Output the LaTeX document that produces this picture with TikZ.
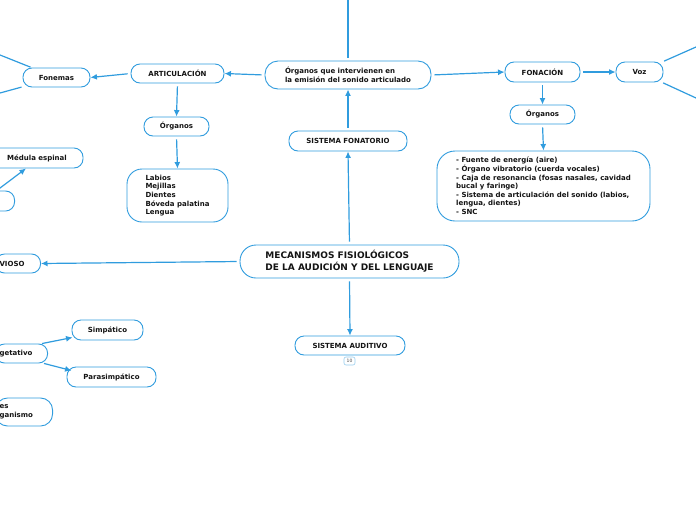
\documentclass[tikz,border=0pt]{standalone}
\usepackage{fontspec}
\setmainfont{DejaVu Sans}
\usepackage{tikz}
\usetikzlibrary{arrows,arrows.meta,calc,positioning}
\definecolor{mapline}{RGB}{48,156,222}
\definecolor{maptext}{RGB}{20,20,20}

\begin{document}
\begin{tikzpicture}[x=1pt,y=-1pt,
    tema/.style={draw=mapline, line width=0.9pt, rounded corners=9pt, fill=white, text=maptext,
        font=\fontsize{7}{8.6}\selectfont\bfseries, inner xsep=4pt, inner ysep=2pt, minimum height=19pt},
    enlace/.style={draw=mapline, line width=1.2pt, -{Latex[length=6.5pt,width=6pt]}, shorten <=3pt},
    rama/.style={draw=mapline, line width=1.2pt}]
    \useasboundingbox (0,0) rectangle (696,520);

    % centro del mapa
    \node[tema, minimum width=219pt, minimum height=33pt, rounded corners=16pt, align=left,
        font=\fontsize{9}{12}\selectfont\bfseries] (mecanismos) at (349.5,261.5)
        {MECANISMOS FISIOLÓGICOS\\DE LA AUDICIÓN Y DEL LENGUAJE};
    \node[tema, minimum width=118pt, minimum height=20pt] (fonatorio) at (348,141) {SISTEMA FONATORIO};
    \node[tema, minimum width=110pt] (auditivo) at (350,345.5) {SISTEMA AUDITIVO};
    \node[draw=mapline!50, line width=0.6pt, rounded corners=2pt, fill=white, text=black!70,
        font=\fontsize{4.5}{5}\selectfont, inner sep=1pt, minimum width=11pt, minimum height=8pt] (nota) at (349.5,361) {10};

    \node[tema, minimum width=166pt, minimum height=28pt, rounded corners=13pt, align=left] (emision) at (348,75)
        {Órganos que intervienen en\\la emisión del sonido articulado};
    \coordinate (arriba) at (348,0);
    \draw[rama, shorten >=3pt] (arriba) -- (emision.north);

    % articulacion
    \node[tema, minimum width=93pt] (articulacion) at (177.5,73.5) {ARTICULACIÓN};
    \node[tema, minimum width=67pt] (fonemas) at (56.5,77.5) {Fonemas};
    \node[tema, minimum width=65pt] (organosA) at (176.5,126.5) {Órganos};
    \node[tema, minimum width=101pt, minimum height=53pt, rounded corners=15pt, align=left] (labios) at (177.5,195.5)
        {Labios\\Mejillas\\Dientes\\Bóveda palatina\\Lengua};
    \coordinate (fonemasA) at (0,55);
    \coordinate (fonemasB) at (0,93);

    % fonacion
    \node[tema, minimum width=75pt, minimum height=20pt] (fonacion) at (542.5,72) {FONACIÓN};
    \node[tema, minimum width=47pt, minimum height=20pt] (voz) at (639.5,72) {Voz};
    \node[tema, minimum width=65pt] (organosF) at (542.5,114.5) {Órganos};
    \node[tema, minimum width=213pt, minimum height=70pt, rounded corners=18pt, align=left] (fuente) at (543.5,186)
        {- Fuente de energía (aire)\\- Órgano vibratorio (cuerda vocales)\\- Caja de resonancia (fosas nasales, cavidad\\bucal y faringe)\\- Sistema de articulación del sonido (labios,\\lengua, dientes)\\- SNC};
    \coordinate (vozA) at (696,47);
    \coordinate (vozB) at (696,98);

    % sistema nervioso (cortado en el borde)
    \node[tema, anchor=east, text width=37pt, align=left] (nervioso) at (41,263.5) {VIOSO};
    \node[tema, minimum width=92pt, minimum height=20pt] (medula) at (37,158) {Médula espinal};
    \node[tema, anchor=east, minimum width=40pt, minimum height=20pt] (medulaP) at (15,201) {};
    \node[tema, anchor=east, text width=44pt, align=left] (vegetativo) at (48,353.5) {getativo};
    \node[tema, minimum width=71pt, minimum height=20pt] (simpatico) at (107.5,330) {Simpático};
    \node[tema, minimum width=89pt, minimum height=20pt] (parasimp) at (111.5,377) {Parasimpático};
    \node[tema, anchor=east, text width=49pt, minimum height=28pt, rounded corners=12pt, align=left] (organismo) at (53,412)
        {es\\ganismo};

    \draw[enlace] (emision.west) -- (articulacion.east);
    \draw[enlace] (articulacion.west) -- (fonemas.east);
    \draw[rama, shorten <=1pt] (fonemas) -- (fonemasA);
    \draw[rama, shorten <=1pt] (fonemas) -- (fonemasB);
    \draw[enlace] (articulacion.south) -- (organosA.north);
    \draw[enlace] (organosA.south) -- (labios.north);

    \draw[enlace] (emision.east) -- (fonacion.west);
    \draw[enlace] (fonacion.east) -- (voz.west);
    \draw[rama, shorten <=1pt] (voz) -- (vozA);
    \draw[rama, shorten <=1pt] (voz) -- (vozB);
    \draw[enlace] (fonacion.south) -- (organosF.north);
    \draw[enlace] (organosF.south) -- (fuente.north);

    \draw[enlace] (fonatorio.north) -- (emision.south);
    \draw[enlace] (mecanismos.north) -- (fonatorio.south);
    \draw[enlace] (mecanismos.south) -- (auditivo.north);
    \draw[enlace] (mecanismos.west) -- (nervioso.east);

    \draw[enlace, shorten <=0pt] ([xshift=-17pt,yshift=1pt]medulaP.north east) -- ([xshift=-11pt]medula.south);
    \draw[enlace, shorten <=0pt] ([xshift=-6pt]vegetativo.north east) -- ([xshift=1pt,yshift=3pt]simpatico.south west);
    \draw[enlace, shorten <=0pt] ([xshift=-4pt]vegetativo.south east) -- ([xshift=5pt,yshift=-4pt]parasimp.north west);

\end{tikzpicture}
\end{document}
